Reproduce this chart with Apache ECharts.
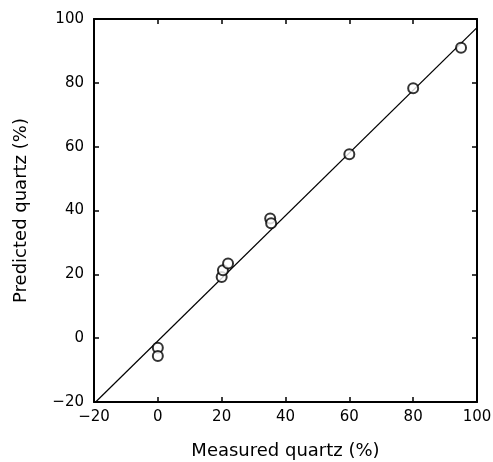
<!DOCTYPE html>
<html>

<head>
    <meta charset="utf-8">
    <title>Measured vs predicted quartz</title>
    <style>
        body { margin: 0; background: #fff; }
        #chart-container { width: 493px; height: 462px; }
    </style>
    <script src="https://cdn.jsdelivr.net/npm/echarts@6/dist/echarts.min.js"></script>
</head>

<body>
    <div id="chart-container"></div>
    <script>
        // measured vs predicted quartz (%)
        const measured = [0, 0, 20, 20.4, 22, 35.2, 35.5, 60, 80, 95];
        const predicted = [-3, -5.6, 19.2, 21.3, 23.4, 37.5, 36, 57.6, 78.3, 91];
        // fitted line end points
        const lineX = [-20, 100];
        const lineY = [-20.5, 97.3];

        const axisColor = '#000';
        const font = 'DejaVu Sans';

        var dom = document.getElementById('chart-container');
        var myChart = echarts.init(dom, null, { renderer: 'canvas' });

        const baseAxis = {
            type: 'value',
            min: -20,
            max: 100,
            interval: 20,
            splitLine: { show: false },
            axisLine: { show: true, onZero: false, lineStyle: { color: axisColor, width: 2 } },
            axisTick: { show: true, inside: true, length: 5, lineStyle: { color: axisColor, width: 1.5 } },
            axisLabel: { color: '#000', fontFamily: font, fontSize: 15 }
        };

        const minus = v => (v < 0 ? '\u2212' + (-v) : v);

        var option = {
            animation: false,
            grid: { left: 94, right: 16, top: 19, bottom: 60, containLabel: false, outerBoundsMode: 'none' },
            xAxis: [
                Object.assign({}, baseAxis, {
                    position: 'bottom',
                    name: 'Measured quartz (%)',
                    nameLocation: 'middle',
                    nameGap: 40,
                    nameTextStyle: { color: '#000', fontFamily: font, fontSize: 18 },
                    axisLabel: { color: '#000', fontFamily: font, fontSize: 15, margin: 8, formatter: minus }
                }),
                Object.assign({}, baseAxis, {
                    position: 'top',
                    axisLabel: { show: false }
                })
            ],
            yAxis: [
                Object.assign({}, baseAxis, {
                    position: 'left',
                    name: 'Predicted quartz (%)',
                    nameLocation: 'middle',
                    nameGap: 64,
                    nameTextStyle: { color: '#000', fontFamily: font, fontSize: 18 },
                    axisLabel: { color: '#000', fontFamily: font, fontSize: 15, margin: 10, formatter: minus }
                }),
                Object.assign({}, baseAxis, {
                    position: 'right',
                    axisLabel: { show: false }
                })
            ],
            series: [
                {
                    type: 'line',
                    data: lineX.map((x, i) => [x, lineY[i]]),
                    symbol: 'none',
                    lineStyle: { color: '#000', width: 1.3 },
                    z: 1
                },
                {
                    type: 'scatter',
                    data: measured.map((x, i) => [x, predicted[i]]),
                    symbol: 'circle',
                    symbolSize: 10,
                    itemStyle: { color: '#fff', borderColor: '#000', borderWidth: 2 },
                    z: 2
                }
            ]
        };

        myChart.setOption(option);
        window.addEventListener('resize', myChart.resize);
    </script>
</body>

</html>
